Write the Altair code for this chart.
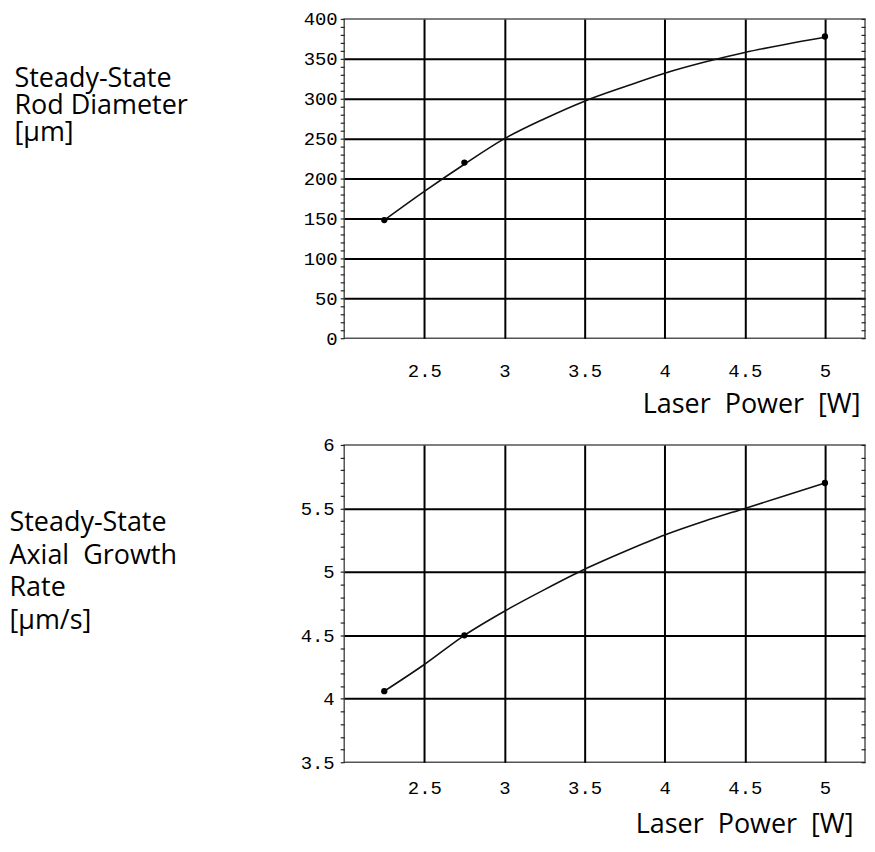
import altair as alt
import pandas as pd

# ---- data ----
power_pts = [2.25, 2.75, 5.0]
diameter_pts = [148, 220, 378]
growth_pts = [4.06, 4.5, 5.70]

curve_power = [2.25, 2.5, 2.75, 3.0, 3.25, 3.5, 3.75, 4.0, 4.25, 4.5, 4.75, 5.0]
diameter_curve = [148, 184, 218, 250, 275, 297, 315, 332, 346, 358, 368, 377]
growth_curve = [4.06, 4.27, 4.5, 4.69, 4.86, 5.02, 5.16, 5.29, 5.40, 5.50, 5.60, 5.70]

x_ticks = [2.5, 3.0, 3.5, 4.0, 4.5, 5.0]
diam_minor = [v * 10 for v in range(0, 41)]
growth_minor = [round(3.5 + i * 0.1, 2) for i in range(0, 26)]

top_title = ["Steady-State", "Rod Diameter", "\u00a0[\u03bcm]"]
bottom_title = ["Steady-State", "Axial\u00a0 Growth", "Rate", "[\u03bcm/s]"]
x_title = "Laser\u00a0 Power\u00a0 [W]"

MONO = "Liberation Mono"
SANS = "Open Sans"


def panel(curve_y, pts_y, ydom, yminor, major_test, inner_test, ytitle,
          ty_x, ty_y, ty_lh, ylabpad, xlabpad, tx_x, tx_y, height):
    curve_df = pd.DataFrame({"p": curve_power, "v": curve_y})
    pts_df = pd.DataFrame({"p": power_pts, "v": pts_y})
    xscale = alt.Scale(domain=[2.0, 5.25], nice=False, zero=False)
    yscale = alt.Scale(domain=ydom, nice=False, zero=False)
    xaxis = alt.Axis(values=x_ticks, labelExpr="format(datum.value, '~g')",
                     grid=True, gridColor="black",
                     gridWidth=2, ticks=False, tickSize=0, domain=False,
                     labelFont=MONO, labelFontSize=19, labelColor="black",
                     labelPadding=xlabpad, title=x_title, titleFont=SANS,
                     titleFontSize=27, titleFontWeight="normal", titleColor="black",
                     titleAlign="right", titleBaseline="alphabetic",
                     titleX=tx_x, titleY=tx_y, minExtent=0)
    yaxis_left = alt.Axis(values=yminor, orient="left",
                          labelExpr=f"({major_test}) ? format(datum.value, '~g') : ''",
                          grid=True, gridColor="black", gridWidth=2,
                          gridOpacity={"condition": {"test": inner_test, "value": 1}, "value": 0},
                          ticks=True, tickSize=4, tickColor="#222", tickWidth=1.2,
                          domain=False, labelFont=MONO, labelFontSize=19,
                          labelColor="black", labelPadding=ylabpad,
                          title=ytitle, titleFont=SANS, titleFontSize=27,
                          titleFontWeight="normal", titleColor="black", titleAngle=0,
                          titleAlign="left", titleBaseline="alphabetic",
                          titleX=ty_x, titleY=ty_y, titleLineHeight=ty_lh, minExtent=0)
    yaxis_right = alt.Axis(values=yminor, orient="right", labels=False, grid=False,
                           ticks=True, tickSize=4, tickColor="#222", tickWidth=1.2,
                           domain=False, offset=-4, title=None,
                           minExtent=0, maxExtent=0)
    line = alt.Chart(curve_df).mark_line(color="#111", strokeWidth=1.6,
                                         interpolate="monotone").encode(
        x=alt.X("p:Q", scale=xscale, axis=xaxis),
        y=alt.Y("v:Q", scale=yscale, axis=yaxis_left),
    )
    pts = alt.Chart(pts_df).mark_circle(color="black", size=40, opacity=1).encode(
        x=alt.X("p:Q", scale=xscale, axis=xaxis),
        y=alt.Y("v:Q", scale=yscale, axis=yaxis_right),
    )
    return alt.layer(line, pts).resolve_axis(y="independent").properties(
        width=522, height=height)


top = panel(diameter_curve, diameter_pts, [0, 400], diam_minor,
            "datum.value % 50 === 0",
            "datum.value % 50 === 0 && datum.value > 0 && datum.value < 400",
            top_title, -331, 68, 27, 3, 23, 517, 74, 320)

bot_major = "abs(datum.value * 2 - round(datum.value * 2)) < 0.001"
bottom = panel(growth_curve, growth_pts, [3.5, 6.0], growth_minor,
               bot_major,
               bot_major + " && datum.value > 3.55 && datum.value < 5.95",
               bottom_title, -336, 86, 32.5, 6, 16, 510, 70, 318)

chart = alt.vconcat(top, bottom, spacing=17).properties(
    padding={"left": 0, "top": 0, "right": 0, "bottom": 4}
).configure_view(stroke="#555", strokeWidth=1.5)

chart.save("out.html", embed_options={"renderer": "svg", "actions": False})
